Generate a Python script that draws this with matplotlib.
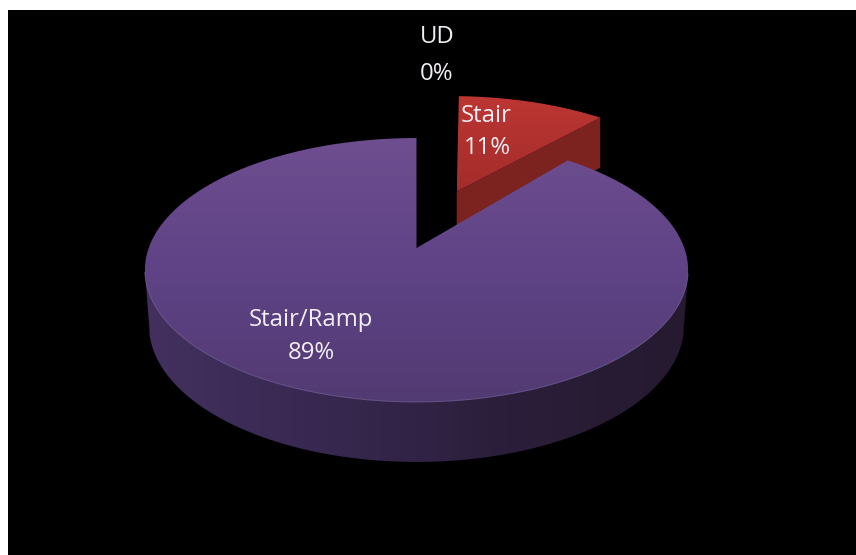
import numpy as np
import matplotlib
matplotlib.use("Agg")
import matplotlib.pyplot as plt
from matplotlib.patches import Polygon, Rectangle
from matplotlib.colors import LinearSegmentedColormap

categories = ["Stair", "Stair/Ramp", "UD"]
values = [11, 89, 0]
percent_labels = ["11%", "89%", "0%"]

FONT = "Open Sans"
W, H = 856, 555
CX, CY, A, B, K = 416.5, 248.0, 267.8, 128.3, 1 / 6


def project(u, v):
    s = 1 / (1 + K * v)
    return CX + A * u * s, CY - B * v * s, s


def face(theta1, theta2, du=0.0, dv=0.0, n=240):
    t = np.radians(np.linspace(theta1, theta2, n))
    u = np.r_[du, du + np.cos(t)]
    v = np.r_[dv, dv + np.sin(t)]
    return project(u, v)


def wall_offset(s):
    return 27.6 + 27 * s


def gradient_fill(ax, x, y, colors, vertical=True):
    cmap = LinearSegmentedColormap.from_list("g", colors)
    g = np.linspace(0, 1, 256)
    g = g[:, None] if vertical else g[None, :]
    im = ax.imshow(g, cmap=cmap, vmin=0, vmax=1, aspect="auto", interpolation="bilinear",
                   extent=(x.min(), x.max(), y.max(), y.min()), zorder=ax._z)
    poly = Polygon(np.c_[x, y], closed=True, transform=ax.transData,
                   fc="none", ec="none")
    ax.add_patch(poly)
    im.set_clip_path(poly)
    ax._z += 1


fig = plt.figure(figsize=(W / 100, H / 100), dpi=100, facecolor="white")
ax = fig.add_axes([0, 0, 1, 1])
ax.axis("off")
ax._z = 2

wedges, _ = ax.pie(values, startangle=90, counterclock=False)
angles = {c: (w.theta1, w.theta2) for c, w in zip(categories, wedges)}
for w in wedges:
    w.remove()
ax.set_aspect("auto")
ax.set_xlim(0, W)
ax.set_ylim(H, 0)
ax.add_patch(Rectangle((8, 10), W, H, fc="black", ec="none", zorder=1))

# Stair slice (pulled out, drawn first, purple covers its lower part)
t1, t2 = angles["Stair"]
rot = -2.0
du, dv = 0.162, 0.475
x, y, s = face(t1 + rot, t2 + rot, du, dv)
ex, ey, es = x[[0, 1]], y[[0, 1]], s[[0, 1]]
side = np.r_[np.c_[ex, ey], np.c_[ex[::-1], (ey + wall_offset(es))[::-1]]]
ax.add_patch(Polygon(side, closed=True, fc="#7c2320", ec="none", zorder=ax._z))
ax._z += 1
gradient_fill(ax, x, y, ["#bc3633", "#a32c2a"])

# Stair/Ramp slice
t1, t2 = angles["Stair/Ramp"]
x, y, s = face(t1, t2)
ax_x, ax_y, ax_s = x[1:], y[1:], s[1:]
front = ax_y > 262
i = np.where(front)[0]
tx, ty, ts = ax_x[i], ax_y[i], ax_s[i]
order = np.argsort(tx)
tx, ty, ts = tx[order], ty[order], ts[order]
bx = CX + (tx - CX) * 0.985
by = ty + wall_offset(ts)
wall_x = np.r_[tx, bx[::-1]]
wall_y = np.r_[ty, by[::-1]]
gradient_fill(ax, wall_x, wall_y, ["#43305f", "#372850", "#2a1e3a", "#261a30"], vertical=False)
gradient_fill(ax, x, y, ["#6e4e8f", "#5f4386", "#523a72"])
rim = ty > 272
ax.plot(tx[rim], ty[rim], color="#7d66a3", lw=0.7, alpha=0.7, zorder=ax._z)
ax._z += 1

# Labels
pos = {"UD": (437, 37, 437, 74), "Stair": (486, 116, 487, 148),
       "Stair/Ramp": (311, 320, 311, 353)}
for c, p in zip(categories, percent_labels):
    xa, ya, xb_, yb_ = pos[c]
    ax.text(xa, ya, c, color="#f2eef4", fontsize=17.2, family=FONT, ha="center", va="center", zorder=50)
    ax.text(xb_, yb_, p, color="#f2eef4", fontsize=17.2, family=FONT, ha="center", va="center", zorder=50)

ax.set_xlim(0, W)
ax.set_ylim(H, 0)
fig.savefig("out.png", dpi=100, facecolor="white")
